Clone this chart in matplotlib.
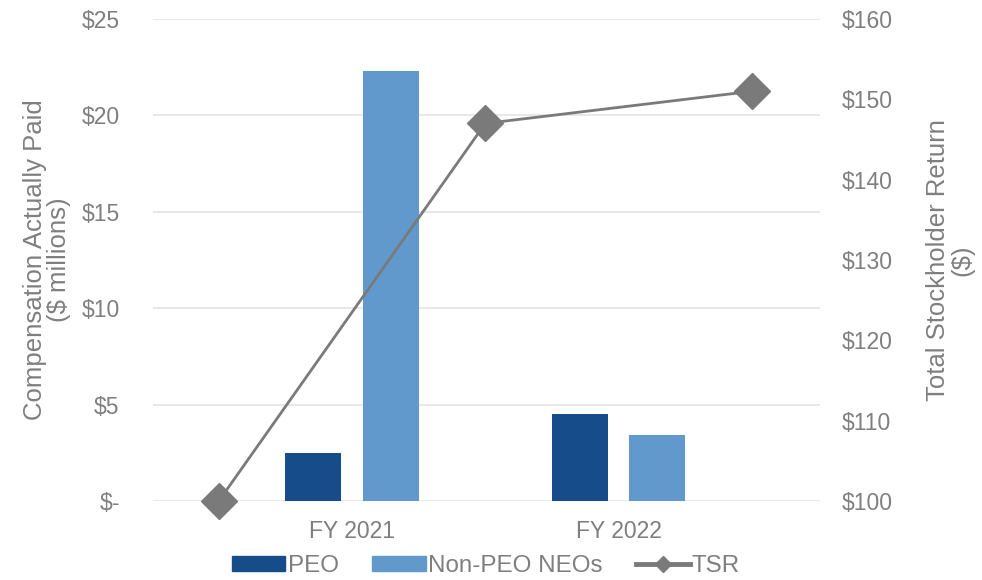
import numpy as np
import matplotlib
matplotlib.use("Agg")
import matplotlib.pyplot as plt
from matplotlib.lines import Line2D
from matplotlib.patches import Patch

categories = ["FY 2021", "FY 2022"]
peo = [2.5, 4.5]
non_peo = [22.3, 3.4]
tsr = [100, 147, 151]
left_ticks = [0, 5, 10, 15, 20, 25]
left_labels = ["$-", "$5", "$10", "$15", "$20", "$25"]
right_ticks = [100, 110, 120, 130, 140, 150, 160]
right_labels = ["$100", "$110", "$120", "$130", "$140", "$150", "$160"]

plt.rcParams['font.family'] = ['Liberation Sans', 'DejaVu Sans']
gray = '#7f7f7f'
c_peo = '#174c8a'
c_non = '#6199cc'
c_tsr = '#7a7a7a'

fig = plt.figure(figsize=(9.82, 5.8), dpi=100)
ax = fig.add_axes([0.1558, 0.1362, 0.835 - 0.1558, 0.9672 - 0.1362])
x = np.arange(len(categories))
w = 0.21
off = 0.145
ax.bar(x - off, peo, w, color=c_peo, zorder=2)
ax.bar(x + off, non_peo, w, color=c_non, zorder=2)
ax.set_xlim(-0.747, 1.756)
ax.set_ylim(0, 25)
ax.set_yticks(left_ticks)
ax.set_yticklabels(left_labels)
ax.set_xticks(x)
ax.set_xticklabels(categories)
ax.grid(axis='y', color='#e4e4e4', linewidth=1.2, zorder=0)
ax.set_axisbelow(True)
for s in ax.spines.values():
    s.set_visible(False)
ax.tick_params(axis='both', length=0, labelsize=16.5, labelcolor=gray)
ax.tick_params(axis='y', pad=24)
ax.tick_params(axis='x', pad=14)
ax.set_ylabel("Compensation Actually Paid\n($ millions)", fontsize=18.5, color=gray,
              linespacing=1.0, va='center', ha='center')
ax.yaxis.set_label_coords(-0.159, 0.5)

ax2 = ax.twinx()
tx = np.arange(len(tsr)) - 0.5
ax2.plot(tx, tsr, color=c_tsr, linewidth=2, marker='D', markersize=18, zorder=3, clip_on=False)
ax2.set_ylim(100, 160)
ax2.set_yticks(right_ticks)
ax2.set_yticklabels(right_labels)
for s in ax2.spines.values():
    s.set_visible(False)
ax2.tick_params(axis='y', length=0, labelsize=16.5, labelcolor=gray, pad=16)
ax2.set_ylabel("Total Stockholder Return\n($)", fontsize=18.5, color=gray, rotation=90,
               linespacing=1.0)
ax2.yaxis.label.set_va('center')
ax2.yaxis.label.set_ha('center')
ax2.yaxis.set_label_coords(1.195, 0.5)

handles = [Patch(color=c_peo), Patch(color=c_non),
           Line2D([0], [0], color=c_tsr, linewidth=3.5, marker='D', markersize=8)]
fig.legend(handles, ["PEO", "Non-PEO NEOs", "TSR"], loc='center', bbox_to_anchor=(0.495, 0.024),
           ncol=3, frameon=False, fontsize=17.4, labelcolor=gray, handlelength=2.2, handleheight=0.54,
           handletextpad=0.1, columnspacing=1.4, borderpad=0)
fig.savefig("out.png", dpi=100)
